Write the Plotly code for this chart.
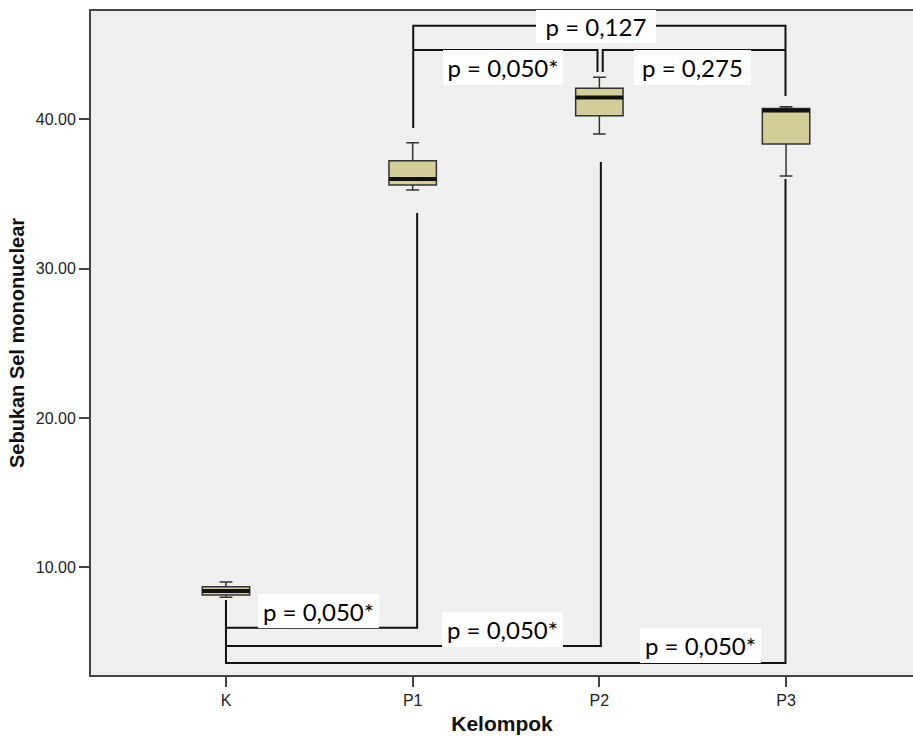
import plotly.graph_objects as go

# ---- data ----
groups = ["K", "P1", "P2", "P3"]
group_pos = [0, 1, 2, 3]
lower_whisker = [8.00, 35.27, 39.02, 36.20]
q1_vals = [8.14, 35.60, 40.24, 38.35]
median_vals = [8.42, 36.00, 41.45, 40.58]
q3_vals = [8.70, 37.23, 42.08, 40.72]
upper_whisker = [9.02, 38.43, 42.81, 40.84]

y_ticks = [10, 20, 30, 40]

# significance brackets (x in category units, y in data units)
br_top_x = [1.003, 1.003, 2.997, 2.997]
br_top_y = [39.42, 46.27, 46.27, 41.56]
br_p1p2_x = [1.003, 1.99, 1.99]
br_p1p2_y = [44.64, 44.64, 43.17]
br_p2p3_x = [2.018, 2.018, 2.997]
br_p2p3_y = [43.17, 44.64, 44.64]
br_kp1_x = [0, 0, 1.024, 1.024]
br_kp1_y = [7.81, 5.96, 5.96, 33.73]
br_kp2_x = [0, 2.008, 2.008]
br_kp2_y = [4.73, 4.73, 37.14]
br_kp3_x = [0, 0, 2.997, 2.997]
br_kp3_y = [7.81, 3.59, 3.59, 36.00]

p_labels = ["p = 0,127", "p = 0,050*", "p = 0,275", "p = 0,050*", "p = 0,050*", "p = 0,050*"]
p_label_x = [1.982, 1.484, 2.499, 0.495, 1.481, 2.541]
p_label_y = [46.21, 43.47, 43.47, 7.07, 5.83, 4.76]
p_label_w = [120, 120, 117, 121, 121, 121]
p_label_h = [33, 35, 35, 34, 35, 35]

BOX_W = 0.254
SANS = "Liberation Sans, Arial, sans-serif"

fig = go.Figure()

fig.add_trace(go.Box(
    x=group_pos, q1=q1_vals, median=median_vals, q3=q3_vals,
    lowerfence=lower_whisker, upperfence=upper_whisker,
    width=BOX_W, whiskerwidth=0.27,
    fillcolor="#D3CE98", line=dict(color="#333333", width=1.5),
    showlegend=False, hoverinfo="skip",
))

# thick median lines
mx, my = [], []
for p, m in zip(group_pos, median_vals):
    mx += [p - BOX_W / 2, p + BOX_W / 2, None]
    my += [m, m, None]
fig.add_trace(go.Scatter(x=mx, y=my, mode="lines",
                         line=dict(color="#111111", width=4),
                         showlegend=False, hoverinfo="skip"))

# brackets
for bx, by in [(br_top_x, br_top_y), (br_p1p2_x, br_p1p2_y), (br_p2p3_x, br_p2p3_y),
               (br_kp1_x, br_kp1_y), (br_kp2_x, br_kp2_y), (br_kp3_x, br_kp3_y)]:
    fig.add_trace(go.Scatter(x=bx, y=by, mode="lines",
                             line=dict(color="#111111", width=2),
                             showlegend=False, hoverinfo="skip", cliponaxis=False))

for t, x, y, w, h in zip(p_labels, p_label_x, p_label_y, p_label_w, p_label_h):
    fig.add_annotation(text=t, x=x, y=y, xref="x", yref="y", showarrow=False,
                       xanchor="center", yanchor="middle",
                       width=w, height=h, bgcolor="white", borderpad=0, borderwidth=0,
                       font=dict(family="Lato", size=24, color="black"))

fig.update_layout(
    width=913, height=740,
    margin=dict(l=91, r=0, t=11, b=65, autoexpand=False),
    paper_bgcolor="white", plot_bgcolor="#EFEFEF",
    showlegend=False,
)
fig.update_xaxes(
    range=[-0.723, 3.68], tickvals=group_pos, ticktext=groups, automargin=False,
    showline=True, linecolor="#444444", linewidth=2, mirror=True,
    ticks="outside", ticklen=10, tickcolor="#444444", tickwidth=1.5,
    showgrid=False, zeroline=False,
    tickfont=dict(family=SANS, size=16, color="#222222"),
    title=dict(text="Kelompok", standoff=8,
               font=dict(family=SANS, size=21, color="#111111", weight="bold")),
)
fig.update_yaxes(
    range=[2.79, 47.25], tickvals=y_ticks, tickformat=".2f", automargin=False,
    showline=True, linecolor="#444444", linewidth=2, mirror=False,
    ticks="outside", ticklen=10, tickcolor="#444444", tickwidth=1.5,
    showgrid=False, zeroline=False,
    tickfont=dict(family=SANS, size=16, color="#222222"),
    title=dict(text="Sebukan Sel mononuclear", standoff=6,
               font=dict(family=SANS, size=20, color="#111111", weight="bold")),
)

fig.write_html("out.html", config={"displayModeBar": False},
               post_script="document.body.style.margin='0';document.body.style.overflow='hidden';")
